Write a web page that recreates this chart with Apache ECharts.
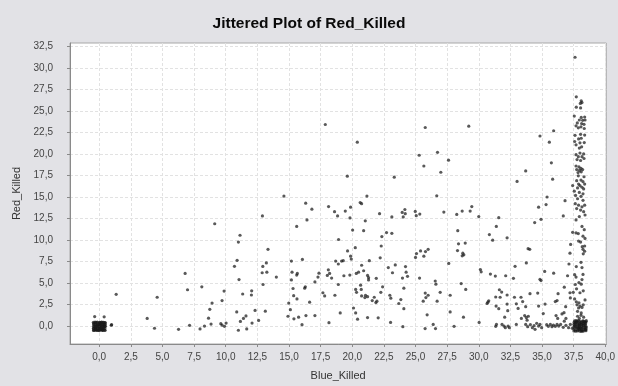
<!DOCTYPE html>
<html>
<head>
<meta charset="utf-8">
<script src="https://cdn.jsdelivr.net/npm/echarts@6/dist/echarts.min.js"></script>
<style>
  html, body { margin: 0; padding: 0; background: #e2e2e6; }
  #chart { width: 618px; height: 386px; }
</style>
</head>
<body>
<div id="chart"></div>
<script>
// [Blue_Killed, Red_Killed] pairs
const originBlock = [
  [-0.42,-0.48],[-0.3,-0.2],[-0.18,0.4],[-0.05,-0.5],[0.08,0.1],[0.21,-0.35],[0.35,0.42],[0.45,-0.05],
  [-0.44,0.3],[-0.25,0.12],[-0.1,-0.28],[0.02,0.44],[0.15,-0.12],[0.3,0.2],[0.42,-0.47],[-0.38,-0.05],
  [-0.2,-0.52],[-0.02,0.2],[0.12,0.3],[0.25,-0.5],[0.38,0.05],[0.47,0.38],[-0.33,0.45],[-0.12,0.05],
  [0.05,-0.2],[0.19,0.46],[0.33,-0.25],[-0.46,-0.3],[0.46,0.22],[-0.28,-0.4],[0.1,-0.42],[0.28,0.0],
  [-0.45,-0.52],[-0.31,-0.49],[-0.14,-0.47],[0.01,-0.53],[0.16,-0.46],[0.31,-0.51],[0.47,-0.5],
  [-0.43,-0.26],[-0.29,-0.3],[-0.16,-0.24],[0.02,-0.29],[0.14,-0.27],[0.29,-0.31],[0.44,-0.25],
  [-0.45,-0.04],[-0.3,-0.08],[-0.15,-0.02],[0.0,-0.06],[0.16,-0.01],[0.3,-0.07],[0.48,-0.03],
  [-0.44,0.18],[-0.31,0.2],[-0.14,0.16],[0.01,0.19],[0.15,0.17],[0.31,0.21],[0.45,0.15],
  [-0.46,0.43],[-0.29,0.41],[-0.16,0.45],[0.03,0.4],[0.14,0.43],[0.29,0.44],[0.46,0.41],
  [-0.36,1.1],[0.39,1.07],[0.98,0.16],[0.95,0.1]
];

const leftPoints = [
  [1.34,3.69],[3.79,0.88],[4.37,-0.26],[4.58,3.35],[6.27,-0.38],[6.79,6.12],[6.98,4.22],[7.14,0.08],
  [7.97,-0.34],[8.11,4.56],[8.32,0.0],[8.64,0.91],[8.74,1.94],[8.84,0.23],[8.92,2.67],[9.13,11.9],
  [9.61,0.27],[9.71,0.11],[9.71,2.96],[9.87,4.07],[9.9,-0.03],[10.03,0.34],[10.69,6.95],[10.87,1.64],
  [10.9,7.64],[11.0,9.77],[11.0,-0.49],[11.05,5.4],[11.13,10.56],[11.16,0.54],[11.34,3.73],[11.4,0.88],
  [11.6,1.18],[11.66,-0.34],[12.03,3.61],[12.05,4.1],[12.08,0.34],[12.32,1.82],[12.6,0.65],[12.88,6.2],
  [12.9,12.81],[12.93,6.93],[12.95,4.83],[13.13,1.73],[13.21,7.34],[13.25,6.27],[13.34,8.93],[14.0,5.7]
];

const midPoints = [
  [14.6,15.12],[14.92,1.14],[14.98,2.67],[15.11,1.9],[15.19,7.56],[15.19,5.36],[15.24,6.27],[15.32,4.37],
  [15.37,3.53],[15.39,0.84],[15.61,5.93],[15.61,11.59],[15.63,3.16],[15.66,6.12],[15.76,1.03],[16.03,0.16],
  [16.06,7.75],[16.24,4.41],[16.29,4.56],[16.32,14.29],[16.34,1.22],[16.42,12.35],[16.63,2.78],[16.81,13.6],
  [17.05,5.13],[17.05,1.22],[17.29,5.7],[17.37,6.15],[17.68,3.87],[17.82,3.5],[17.87,23.45],[18.03,5.89],
  [18.11,6.54],[18.13,13.9],[18.16,0.39],[18.21,6.12],[18.37,5.58],[18.6,13.3],[18.63,3.58],[18.69,7.56],
  [18.84,12.81],[18.9,7.22],[18.9,4.83],[18.92,10.07],[19.05,1.53],[19.16,7.56],[19.29,7.6],[19.34,5.85],
  [19.45,13.38],[19.61,17.43],[19.63,8.74],[19.81,5.93],[19.82,12.58],[19.87,13.83],[19.87,8.13],[19.92,7.79],
  [20.03,11.17],[20.1,2.1],[20.24,9.12],[20.27,4.26],[20.27,1.53],[20.32,6.12],[20.34,3.92],[20.4,21.39],
  [20.42,0.8],[20.5,6.27],[20.63,14.36],[20.66,4.75],[20.71,4.26],[20.74,14.24],[20.74,7.07],[20.74,3.5],
  [20.9,6.43],[20.9,11.1],[21.0,3.31],[21.03,12.24],[21.05,3.58],[21.16,15.12],[21.21,5.89],[21.21,3.42],
  [21.21,0.99],[21.29,5.63],[21.29,5.36],[21.35,7.6],[21.58,2.96],[21.74,3.35],[21.87,2.73],[21.9,5.55],
  [21.95,2.89],[22.05,0.96],[22.16,13.07],[22.21,7.94],[22.26,3.92],[22.29,9.31],[22.34,10.41],[22.4,4.56],
  [22.71,10.87],[22.85,6.8],[22.97,3.58],[23.03,0.42],[23.05,3.24],[23.13,12.69],[23.13,10.79],[23.18,6.2],
  [23.32,17.32],[23.4,7.11],[23.68,2.62],[23.84,3.08],[23.95,13.22],[23.97,5.58],[24.0,-0.07],[24.03,12.69],
  [24.08,4.41],[24.08,2.02],[24.16,13.56],[24.19,13.07],[24.21,6.92],[24.26,6.27],[24.37,5.78],[24.98,13.33],
  [25.0,7.98],[25.06,12.84],[25.08,8.43],[25.29,19.87],[25.32,5.58],[25.34,13.03],[25.4,8.74],[25.61,2.89],
  [25.66,18.62],[25.66,8.13],[25.76,-0.3],[25.77,23.1],[25.77,3.84],[25.79,8.66],[25.82,3.31],[25.92,1.3],
  [26.0,8.93],[26.0,3.58],[26.4,0.19],[26.56,5.24],[26.58,-0.3],[26.61,4.87],[26.68,15.16],[26.71,2.89],
  [26.74,20.21],[26.95,3.92],[27.0,17.89],[27.24,13.26],[27.61,19.3],[27.63,7.29],[27.74,3.58],[27.74,1.64]
];

const rightPoints = [
  [28.05,-0.03],[28.26,12.99],[28.32,8.78],[28.34,11.1],[28.4,9.57],[28.61,4.94],[28.69,13.38],[28.69,8.17],
  [28.74,8.48],[28.79,1.03],[28.82,8.28],[28.93,9.65],[28.97,4.26],[29.21,23.25],[29.32,13.38],[29.45,13.9],
  [30.0,12.73],[30.03,0.42],[30.13,6.58],[30.19,6.31],[30.66,2.62],[30.72,2.78],[30.79,2.93],[30.84,10.64],
  [30.92,6.04],[31.1,9.99],[31.31,5.81],[31.34,3.38],[31.34,-0.03],[31.37,2.32],[31.39,11.59],[31.4,0.19],
  [31.58,12.61],[31.58,2.02],[31.63,4.22],[31.69,3.35],[31.81,3.95],[31.84,0.19],[32.0,0.0],[32.05,1.03],
  [32.1,-0.19],[32.13,5.85],[32.24,10.26],[32.24,3.61],[32.24,2.55],[32.29,1.79],[32.32,0.0],[32.42,-0.19],
  [32.74,5.55],[32.82,3.35],[32.87,6.95],[32.97,2.59],[32.97,0.19],[33.03,16.83],[33.11,2.05],[33.34,3.35],
  [33.37,0.88],[33.47,2.85],[33.63,1.22],[33.71,18.05],[33.71,2.25],[33.71,0.19],[33.76,7.34],[33.76,0.99],
  [33.82,0.68],[33.87,-0.07],[33.9,9.0],[33.92,1.14],[34.03,8.93],[34.05,3.76],[34.08,0.16],[34.24,-0.19],
  [34.37,0.04],[34.42,12.04],[34.45,-0.38],[34.58,0.31],[34.66,3.84],[34.73,13.83],[34.73,2.32],[34.73,0.0],
  [34.84,22.11],[34.84,5.44],[34.84,0.19],[34.92,12.42],[34.92,5.29],[34.97,-0.19],[35.1,1.45],[35.21,6.35],
  [35.24,2.55],[35.32,14.13],[35.37,0.16],[35.4,15.01],[35.5,-0.03],[35.58,21.39],[35.66,0.19],[35.74,18.99],
  [35.79,-0.07],[35.84,17.09],[35.9,0.11],[35.92,22.72],[35.92,6.15],[36.05,2.85],[36.05,-0.03],[36.11,1.22],
  [36.19,2.96],[36.19,0.19],[36.24,0.88],[36.27,3.76],[36.32,0.0],[36.47,0.19],[36.58,1.41],[36.68,12.81],
  [36.68,-0.15],[36.74,1.56],[36.76,4.52],[36.76,0.57],[36.82,14.59],[36.87,2.25],[36.89,0.88],[36.89,0.08],
  [37.02,5.85],[37.1,-0.19],[37.13,7.22],[37.21,8.48],[37.21,3.87],[37.24,3.27],[37.26,9.5],[37.24,0.19],
  [37.39,-0.26]
];

const column38 = [
  [37.61,31.27],[37.71,26.67],[38.1,26.2],[38.03,25.9],[38.16,26.0],[37.71,25.46],[38.05,25.38],[37.55,24.43],
  [38.1,24.27],[38.37,24.32],[37.95,23.97],[38.21,23.93],[38.4,23.97],[37.79,23.63],[38.13,23.55],[38.32,23.47],
  [37.69,23.29],[38.08,23.18],[37.87,23.06],[38.34,22.98],[37.61,22.19],[38.05,22.3],[38.37,22.22],[37.89,21.77],
  [38.1,21.85],[37.58,21.47],[38.0,21.31],[38.34,21.35],[37.69,21.08],[37.95,20.71],[38.13,20.85],[37.69,19.94],
  [38.0,20.13],[38.29,20.02],[37.87,19.71],[38.16,19.71],[37.77,19.37],[38.05,19.26],[38.32,19.49],[37.69,18.62],
  [37.92,18.51],[38.08,18.35],[37.74,18.2],[37.97,18.12],[38.21,18.2],[37.85,17.86],[38.1,17.94],[37.87,17.48],
  [38.32,17.37],[37.74,16.91],[38.08,16.98],[38.24,16.8],[37.89,16.52],[38.37,16.52],[38.0,16.34],[37.42,16.34],
  [38.16,16.15],[37.81,16.07],[38.29,15.95],[37.55,15.69],[37.95,15.54],[38.24,15.38],[37.65,15.2],[38.08,15.09],
  [37.81,14.81],[38.24,14.63],[37.63,14.24],[37.89,14.06],[38.16,13.87],[38.37,14.06],[37.74,13.67],[38.05,13.49],
  [38.29,13.3],[38.4,12.92],[37.95,12.73],[37.69,12.35],[38.16,11.59],[38.34,11.21],[37.42,10.9],[37.69,10.83],
  [37.87,10.76],[38.24,10.45],[38.4,10.19],[37.89,9.88],[38.05,9.77],[38.37,9.31],[38.18,9.23],[38.24,8.93],
  [38.37,8.7],[38.26,8.4],[38.08,7.41],[37.71,6.92],[38.16,6.8],[37.58,5.97],[37.69,5.7],[38.24,6.0],
  [38.16,5.4],[37.63,4.83],[37.92,5.06],[38.1,4.87],[37.73,4.33],[37.47,3.92],[38.26,4.1],[38.0,3.87],
  [37.58,3.16],[37.71,2.82],[37.92,2.7],[38.4,3.04],[37.77,2.47],[38.0,2.32],[38.16,2.17],[37.89,2.1],
  [38.26,2.47],[37.81,1.71],[38.1,1.53],[37.81,1.14],[38.08,1.25],[38.29,1.03],[37.95,0.88]
];

const rightBlock = [
  [37.52,-0.58],[37.6,0.3],[37.7,-0.2],[37.78,0.58],[37.85,-0.45],[37.93,0.1],[38.0,-0.6],[38.08,0.4],
  [38.15,-0.1],[38.22,0.6],[38.3,-0.35],[38.38,0.2],[38.47,-0.55],[38.48,0.5],[37.55,0.0],[37.65,-0.45],
  [37.74,0.45],[37.82,0.15],[37.9,-0.3],[37.98,0.55],[38.05,-0.25],[38.12,0.2],[38.2,-0.55],[38.27,0.05],
  [38.35,0.5],[38.43,-0.15],[37.58,0.6],[38.45,0.28],[37.68,0.15],[38.1,-0.45],[37.95,-0.05],[38.25,0.35],
  [37.51,-0.35],[37.66,-0.6],[37.81,-0.58],[37.96,-0.4],[38.11,-0.62],[38.26,-0.6],[38.41,-0.4],[38.5,-0.1],
  [37.53,-0.1],[37.67,-0.05],[37.83,-0.12],[37.98,-0.15],[38.13,-0.3],[38.28,-0.15],[38.42,0.02],[38.5,0.62],
  [37.52,0.2],[37.66,0.4],[37.82,0.35],[37.97,0.3],[38.12,0.5],[38.27,0.25],[38.41,0.45],[38.49,-0.35],
  [37.54,0.45],[37.69,0.62],[37.84,-0.25],[37.99,0.2],[38.14,0.1],[38.29,0.58],[38.44,-0.45],[37.88,0.62]
];

const xTicks = [0, 2.5, 5, 7.5, 10, 12.5, 15, 17.5, 20, 22.5, 25, 27.5, 30, 32.5, 35, 37.5, 40];
const yTicks = [0, 2.5, 5, 7.5, 10, 12.5, 15, 17.5, 20, 22.5, 25, 27.5, 30, 32.5];

const chart = echarts.init(document.getElementById('chart'));

const fmt = (v) => v.toFixed(1).replace('.', ',');

const axisCommon = {
  type: 'value',
  nameLocation: 'middle',
  nameTextStyle: { fontFamily: 'Liberation Sans', fontSize: 11, color: '#333' },
  axisLine: { show: true, onZero: false, lineStyle: { color: '#8a8a8a' } },
  axisTick: { show: true, length: 3, lineStyle: { color: '#8a8a8a' } },
  axisLabel: { fontFamily: 'Liberation Sans', fontSize: 10, color: '#444', formatter: fmt },
  splitLine: { show: true, lineStyle: { color: '#e2e2e2', type: [3, 2] } }
};

const option = {
  backgroundColor: '#e2e2e6',
  animation: false,
  title: {
    text: 'Jittered Plot of Red_Killed',
    left: 'center',
    top: 11,
    textStyle: { fontFamily: 'Liberation Sans', fontSize: 15.5, fontWeight: 'bold', color: '#0a0a0a' }
  },
  grid: {
    left: 70, right: 11, top: 43, bottom: 36,
    show: true, backgroundColor: '#fff', borderColor: '#a8a8a8', borderWidth: 1
  },
  xAxis: {
    ...axisCommon,
    name: 'Blue_Killed',
    nameGap: 26,
    min: -2.31,
    max: 40.08,
    axisTick: { ...axisCommon.axisTick, customValues: xTicks },
    axisLabel: { ...axisCommon.axisLabel, customValues: xTicks, margin: 8 }
  },
  yAxis: {
    ...axisCommon,
    name: 'Red_Killed',
    nameGap: 37,
    min: -2.09,
    max: 32.93,
    axisTick: { ...axisCommon.axisTick, customValues: yTicks },
    axisLabel: { ...axisCommon.axisLabel, customValues: yTicks, margin: 17 }
  },
  series: [originBlock, leftPoints, midPoints, rightPoints, column38, rightBlock].map((d) => ({
    type: 'scatter',
    data: d,
    symbol: 'circle',
    symbolSize: 3.2,
    itemStyle: { color: 'rgba(25,25,25,0.9)' }
  }))
};

chart.setOption(option);
</script>
</body>
</html>
